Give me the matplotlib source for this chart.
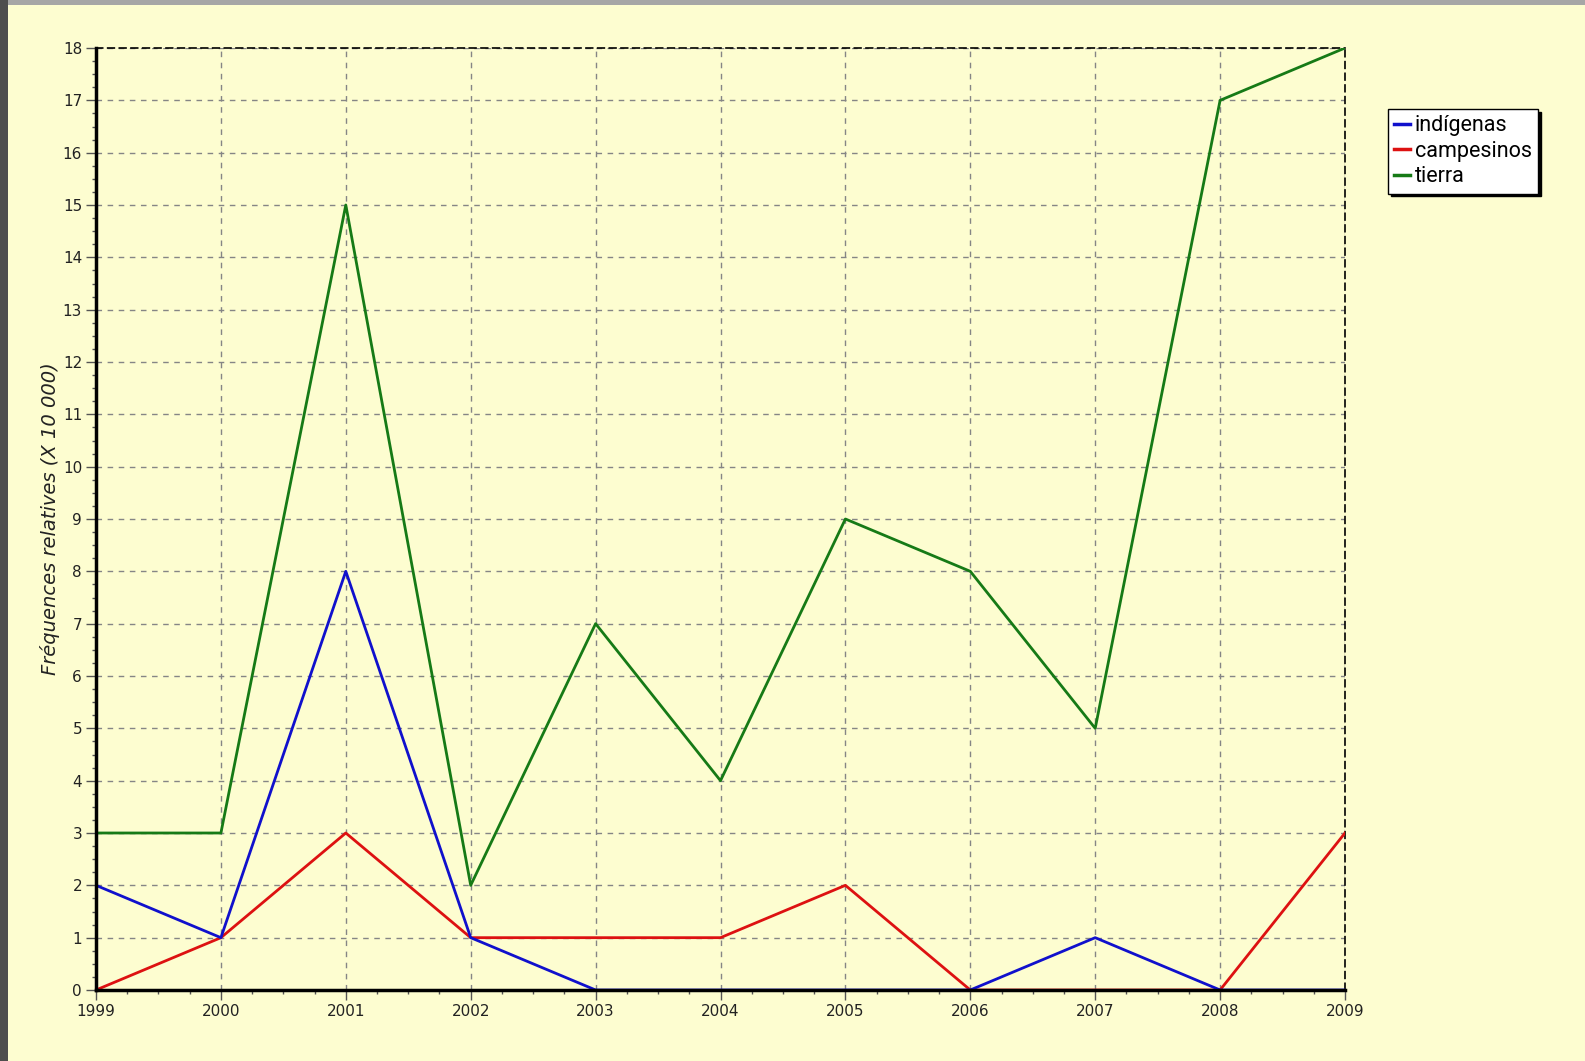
import matplotlib
matplotlib.use("Agg")
import matplotlib.pyplot as plt
from matplotlib.patches import Rectangle
from matplotlib.ticker import MultipleLocator, AutoMinorLocator

years = [1999, 2000, 2001, 2002, 2003, 2004, 2005, 2006, 2007, 2008, 2009]
indigenas = [2, 1, 8, 1, 0, 0, 0, 0, 1, 0, 0]
campesinos = [0, 1, 3, 1, 1, 1, 2, 0, 0, 0, 3]
tierra = [3, 3, 15, 2, 7, 4, 9, 8, 5, 17, 18]

bg = "#fdfdd0"

fig = plt.figure(figsize=(15.85, 10.61), dpi=100, facecolor=bg)

# grey frame of the screenshot (top strip and left strip)
fig.patches.append(Rectangle((0, 1 - 5 / 1061), 1, 5 / 1061, transform=fig.transFigure,
                             facecolor="#a6a6a6", edgecolor="none", zorder=0))
fig.patches.append(Rectangle((0, 0), 8 / 1585, 1, transform=fig.transFigure,
                             facecolor="#4e4e4e", edgecolor="none", zorder=0))

ax = fig.add_axes([96 / 1585, 1 - 990 / 1061, (1345 - 96) / 1585, (990 - 48) / 1061])
ax.set_facecolor(bg)

ax.plot(years, campesinos, color="#dd1111", lw=2.0, label="campesinos", zorder=3)
ax.plot(years, indigenas, color="#1010cc", lw=2.0, label="indígenas", zorder=4)
ax.plot(years, tierra, color="#167a16", lw=2.0, label="tierra", zorder=5)

ax.set_xlim(1999, 2009)
ax.set_ylim(0, 18)
ax.xaxis.set_major_locator(MultipleLocator(1))
ax.yaxis.set_major_locator(MultipleLocator(1))
ax.xaxis.set_minor_locator(AutoMinorLocator(4))
ax.yaxis.set_minor_locator(AutoMinorLocator(4))
ax.tick_params(which="major", direction="out", length=7, width=1, color="#555555",
               labelsize=11, labelcolor="#222222", pad=3)
ax.tick_params(which="minor", direction="out", length=3, width=1, color="#555555")

ax.grid(True, which="major", color="#858585", linestyle=(0, (4, 4)), linewidth=1.0)

for side in ["left", "bottom"]:
    ax.spines[side].set_linewidth(2.5)
    ax.spines[side].set_color("black")
    ax.spines[side].set_zorder(10)
for side in ["top", "right"]:
    ax.spines[side].set_linewidth(1.2)
    ax.spines[side].set_linestyle((0, (4, 3)))
    ax.spines[side].set_color("black")

ax.set_ylabel("Fréquences relatives (X 10 000)", fontsize=14, style="italic",
              color="#222222", labelpad=2)

handles, labels = ax.get_legend_handles_labels()
order = [1, 0, 2]
leg = fig.legend([handles[i] for i in order], [labels[i] for i in order],
                 loc="upper left", bbox_to_anchor=(1388 / 1585, 1 - 109 / 1061),
                 fancybox=False, edgecolor="black", facecolor="white", framealpha=1,
                 shadow={"color": "black", "alpha": 1},
                 prop={"family": "Roboto", "size": 15.5},
                 handlelength=0.7, handletextpad=0.25, borderpad=0.3,
                 labelspacing=0.2, borderaxespad=0)
leg.get_frame().set_linewidth(1.0)
for line in leg.get_lines():
    line.set_linewidth(2.5)

fig.savefig("out.png", dpi=100, facecolor=bg)
